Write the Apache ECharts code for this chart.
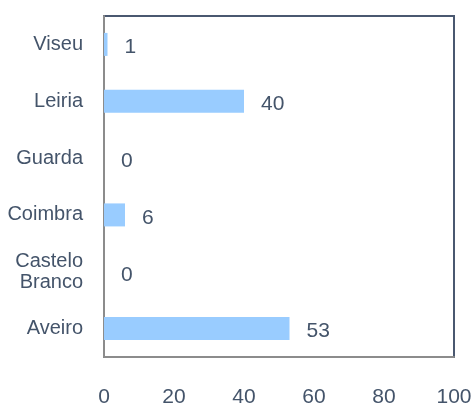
<!DOCTYPE html>
<html>
<head>
<meta charset="utf-8">
<script src="https://cdn.jsdelivr.net/npm/echarts@6/dist/echarts.min.js"></script>
<style>
    html, body { margin: 0; padding: 0; background: #fff; }
    #chart { width: 476px; height: 403px; }
</style>
</head>
<body>
<div id="chart"></div>
<script>
const categories = ['Aveiro', 'Castelo\nBranco', 'Coimbra', 'Guarda', 'Leiria', 'Viseu'];
const values = [53, 0, 6, 0, 40, 1];
const xTicks = { min: 0, max: 100, interval: 20 };

const textColor = '#44546a';
const fontFamily = "'Liberation Sans', Arial, sans-serif";

const chart = echarts.init(document.getElementById('chart'));
chart.setOption({
    animation: false,
    grid: {
        left: 104,
        right: 22,
        top: 16,
        bottom: 46,
        outerBoundsMode: 'none',
        containLabel: false,
        show: true,
        borderColor: '#4a5870',
        borderWidth: 2
    },
    xAxis: {
        type: 'value',
        min: xTicks.min,
        max: xTicks.max,
        interval: xTicks.interval,
        splitLine: { show: false },
        axisTick: { show: false },
        axisLine: { show: true, lineStyle: { color: '#8c8c8c', width: 2 } },
        axisLabel: {
            margin: 30,
            color: textColor,
            fontSize: 21,
            fontFamily: fontFamily
        }
    },
    yAxis: {
        type: 'category',
        data: categories,
        axisTick: { show: false },
        axisLine: { show: true, lineStyle: { color: '#8c8c8c', width: 2 } },
        axisLabel: {
            margin: 21,
            color: textColor,
            fontSize: 20,
            lineHeight: 21,
            padding: [3, 0, 0, 0],
            fontFamily: fontFamily
        }
    },
    series: [{
        type: 'bar',
        data: values,
        barWidth: 23,
        itemStyle: { color: '#99ccff' },
        label: {
            show: true,
            position: 'right',
            distance: 17,
            offset: [0, 3],
            color: textColor,
            fontSize: 21,
            fontFamily: fontFamily
        }
    }]
});
</script>
</body>
</html>
